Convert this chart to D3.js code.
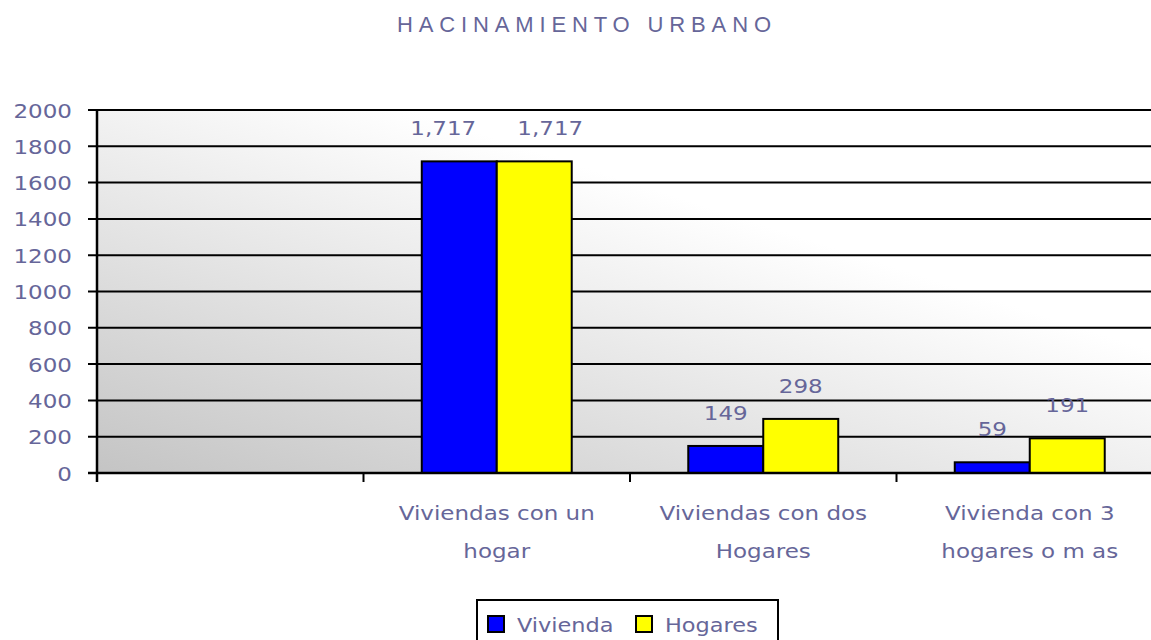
<!DOCTYPE html>
<html>
<head>
<meta charset="utf-8">
<script src="https://cdn.jsdelivr.net/npm/d3@7"></script>
<style>
  html, body { margin: 0; padding: 0; background: #ffffff; }
  svg { display: block; }
  text { font-family: "DejaVu Sans", Verdana, sans-serif; fill: #666699; }
</style>
</head>
<body>
<svg id="chart" width="1151" height="640"></svg>
<script>
// ---- data ----
const title = "HACINAMIENTO URBANO";
const categories = ["", "Viviendas con un|hogar", "Viviendas con dos|Hogares", "Vivienda con 3|hogares o m as"];
const seriesNames = ["Vivienda", "Hogares"];
const seriesColors = ["#0000FF", "#FFFF00"];
const vivienda = [null, 1717, 149, 59];
const hogares = [null, 1717, 298, 191];
const yTicks = [0, 200, 400, 600, 800, 1000, 1200, 1400, 1600, 1800, 2000];
const labelFormat = d3.format(",");

// ---- layout ----
const svg = d3.select("#chart");
const plotLeft = 97, plotTop = 110, plotBottom = 473;
const step = 266.5;
const plotRight = plotLeft + step * categories.length;
const stretch = 1.15;
const fontSize = 20;

const x = d3.scaleBand().domain(d3.range(categories.length)).range([plotLeft, plotRight]).padding(0);
const xSub = d3.scaleBand().domain(seriesNames).range([0, x.bandwidth()]).paddingInner(0).paddingOuter(0.777);
const y = d3.scaleLinear().domain([0, 2000]).range([plotBottom, plotTop]);

// gradient background
const defs = svg.append("defs");
const grad = defs.append("linearGradient").attr("id", "bg")
  .attr("gradientUnits", "userSpaceOnUse")
  .attr("x1", plotLeft).attr("y1", plotBottom)
  .attr("x2", plotLeft + 136).attr("y2", plotBottom - 420);
grad.append("stop").attr("offset", "0").attr("stop-color", "#c4c4c4");
grad.append("stop").attr("offset", "1").attr("stop-color", "#ffffff");

svg.append("rect")
  .attr("x", plotLeft).attr("y", plotTop)
  .attr("width", plotRight - plotLeft).attr("height", plotBottom - plotTop)
  .attr("fill", "url(#bg)");

function sText(g, tx, ty, str, anchor, size) {
  return g.append("text")
    .attr("transform", `translate(${tx},${ty}) scale(${stretch},1)`)
    .attr("text-anchor", anchor || "middle")
    .style("font-size", (size || fontSize) + "px")
    .text(str);
}

// gridlines
svg.append("g").selectAll("line").data(yTicks).join("line")
  .attr("x1", plotLeft - 9).attr("x2", plotRight)
  .attr("y1", d => y(d)).attr("y2", d => y(d))
  .attr("stroke", "#000").attr("stroke-width", 2);

// y tick labels
const yl = svg.append("g");
yTicks.forEach(t => sText(yl, 72, y(t) + 7.5, String(t), "end"));

// bars
const series = [vivienda, hogares];
const barG = svg.append("g");
series.forEach((vals, si) => {
  barG.selectAll(null).data(vals.map((v, i) => ({ v, i })).filter(d => d.v != null)).join("rect")
    .attr("x", d => x(d.i) + xSub(seriesNames[si]))
    .attr("y", d => y(d.v))
    .attr("width", xSub.bandwidth())
    .attr("height", d => y(0) - y(d.v))
    .attr("fill", seriesColors[si])
    .attr("stroke", "#000").attr("stroke-width", 2);
});

// axes lines
svg.append("line").attr("x1", plotLeft).attr("x2", plotLeft)
  .attr("y1", plotTop - 1).attr("y2", plotBottom + 9)
  .attr("stroke", "#000").attr("stroke-width", 2.5);
svg.append("line").attr("x1", plotLeft - 9).attr("x2", plotRight)
  .attr("y1", plotBottom).attr("y2", plotBottom)
  .attr("stroke", "#000").attr("stroke-width", 2.5);
svg.append("g").selectAll("line").data(d3.range(categories.length + 1)).join("line")
  .attr("x1", i => plotLeft + i * x.step()).attr("x2", i => plotLeft + i * x.step())
  .attr("y1", plotBottom).attr("y2", plotBottom + 9)
  .attr("stroke", "#000").attr("stroke-width", 2);

// value labels
const lab = svg.append("g");
categories.forEach((c, i) => {
  const a = vivienda[i], b = hogares[i];
  if (a == null) return;
  const spread = (a === b) ? 16 : 0;
  sText(lab, x(i) + xSub("Vivienda") + xSub.bandwidth() / 2 - spread, y(a) - 26, labelFormat(a));
  sText(lab, x(i) + xSub("Hogares") + xSub.bandwidth() / 2 + spread, y(b) - 26, labelFormat(b));
});

// category labels
const cl = svg.append("g");
categories.forEach((c, i) => {
  if (!c) return;
  const lines = c.split("|");
  const cx = x(i) + x.bandwidth() / 2;
  lines.forEach((ln, k) => sText(cl, cx, 520 + k * 38, ln));
});

// title
svg.append("text")
  .attr("x", 397).attr("y", 32)
  .attr("textLength", 374).attr("lengthAdjust", "spacing")
  .style("font-family", "'Liberation Sans', Arial, sans-serif")
  .style("font-size", "22px")
  .text(title);

// legend
const lg = svg.append("g");
lg.append("rect").attr("x", 477).attr("y", 600).attr("width", 301).attr("height", 60)
  .attr("fill", "#fff").attr("stroke", "#000").attr("stroke-width", 2);
const legX = [488, 636];
seriesNames.forEach((n, i) => {
  lg.append("rect").attr("x", legX[i]).attr("y", 616).attr("width", 16).attr("height", 16)
    .attr("fill", seriesColors[i]).attr("stroke", "#000").attr("stroke-width", 2);
  sText(lg, legX[i] + 29, 632, n, "start", 19.5);
});
</script>
</body>
</html>
